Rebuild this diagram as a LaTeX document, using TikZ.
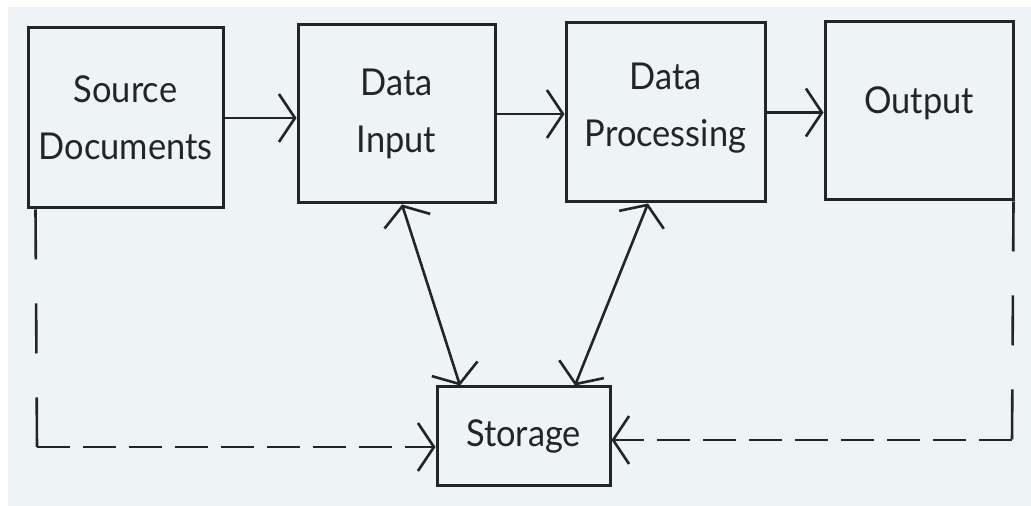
\documentclass[tikz,border=0pt]{standalone}
\usepackage{fontspec}
\setmainfont[FakeStretch=0.93]{Lato}
\usetikzlibrary{arrows.meta,calc}
\definecolor{paper}{HTML}{EEF3F6}
\definecolor{ink}{HTML}{242424}
\begin{document}
\begin{tikzpicture}[x=0.5pt,y=-0.5pt,
  >={Straight Barb[length=8pt,width=24pt]},
  box/.style={draw=ink, line width=1.5pt, inner sep=0pt, align=center,
    text=ink, font=\fontsize{18.5}{28.5}\selectfont},
  flow/.style={draw=ink, line width=1.3pt},
  dashv/.style={flow, dash pattern=on 25pt off 22pt},
  dashh/.style={flow, dash pattern=on 16.5pt off 6.5pt}]
% page and paper
\fill[white] (0,0) rectangle (1031,506);
\fill[paper] (8,7) rectangle (1031,506);

% process boxes
\node[box, minimum width=97.5pt, minimum height=90pt]   (sd)  at (125.5,118) {Source\\Documents};
\node[box, minimum width=98.5pt, minimum height=89pt]   (di)  at (396.5,114) {Data\\Input};
\node[box, minimum width=99.5pt, minimum height=89.5pt] (dp)  at (665.5,112.5)
  {\raisebox{2pt}[\height][\depth]{Data}\\\raisebox{2pt}[\height][\depth]{Processing}};
\node[box, minimum width=94pt,   minimum height=89pt]   (out) at (919,111)
  {\raisebox{4pt}[\height][\depth]{Output}};
\node[box, minimum width=86.5pt, minimum height=49pt]   (st)  at (523.5,436) {Storage};

% main flow
\draw[flow,->] (sd.east) -- (sd.east -| di.west);
\draw[flow,->] (di.east) -- (di.east -| dp.west);
\draw[flow,->] (dp.east) -- (dp.east -| out.west);

% two-way links with storage
\draw[flow,<->] ([xshift=2.75pt]di.south) -- ([xshift=-31.75pt]st.north);
\draw[flow,<->] ([xshift=-8.75pt]dp.south) -- ([xshift=25.75pt]st.north);

% dashed feeds into storage
\coordinate (lc) at (37,447);
\coordinate (rc) at (1012,440);
\draw[dashv] ([xshift=4.5pt]sd.south west) -- (lc);
\draw[dashh,->] (lc) -- (lc -| st.west);
\draw[dashv] ([xshift=-0.5pt]out.south east) -- (rc);
\draw[dashh,->] (rc) -- (rc -| st.east);
\end{tikzpicture}
\end{document}
